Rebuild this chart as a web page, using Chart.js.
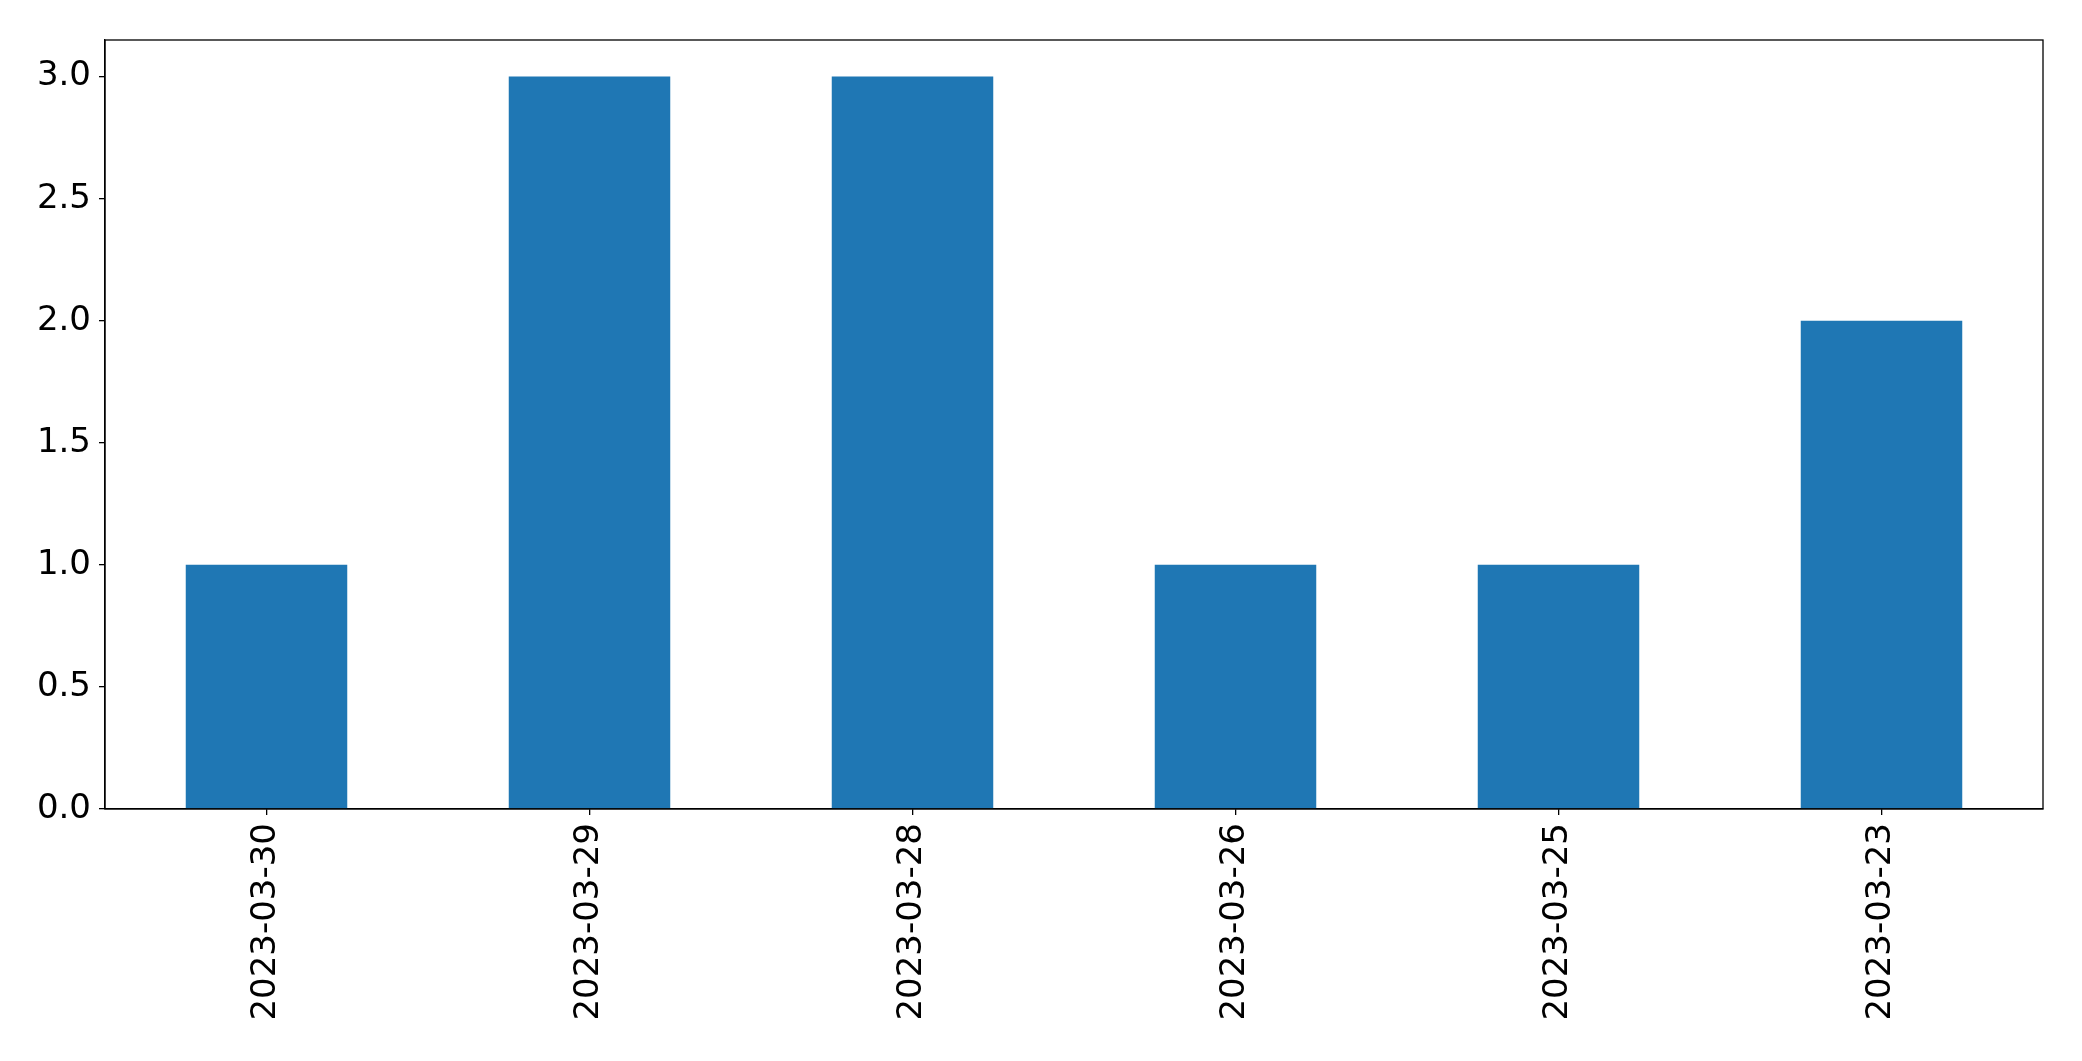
<!DOCTYPE html>
<html>
<head>
<meta charset="utf-8">
<script src="https://cdn.jsdelivr.net/npm/chart.js@4/dist/chart.umd.min.js"></script>
<style>
    html, body { margin:0; padding:0; background:#fff; }
    #wrap { width:2082px; height:1061px; }
</style>
</head>
<body>
<div id="wrap"><canvas id="bar_chart" width="2082" height="1061"></canvas></div>
<script>
// 날짜별 건수
let dates = ["2023-03-30", "2023-03-29", "2023-03-28", "2023-03-26", "2023-03-25", "2023-03-23"];
let counts = [1, 3, 3, 1, 1, 2];
let yTicks = [0, 0.5, 1, 1.5, 2, 2.5, 3];

// 축 테두리(위, 오른쪽 포함) 그리기
const frame = {
    id:"frame",
    afterDraw(chart){
        let a = chart.chartArea;
        let c = chart.ctx;
        c.save();
        c.strokeStyle = "#000";
        c.lineWidth = 1.3;
        c.strokeRect(a.left, a.top, a.right - a.left, a.bottom - a.top);
        c.restore();
    }
};

Chart.defaults.font.family = "'DejaVu Sans'";
Chart.defaults.color = "#000";

let ctx = document.getElementById("bar_chart");
let bar_chart = new Chart(ctx, {
    type:"bar",
    data:{
        labels:dates,
        datasets:[
            {
                data:counts,
                backgroundColor:"#1f77b4",
                categoryPercentage:1.0,
                barPercentage:0.5
            }
        ]
    },
    options:{
        responsive:false,
        animation:false,
        layout:{ padding:{ top:40, right:39, left:0, bottom:0 } },
        plugins:{ legend:{ display:false }, tooltip:{ enabled:false } },
        scales:{
            x:{
                grid:{ drawOnChartArea:false, tickLength:6, color:"#000", lineWidth:1.3, offset:false },
                border:{ color:"#000", width:1.3 },
                ticks:{ font:{ size:34 }, minRotation:90, maxRotation:90, padding:8 },
                afterFit(scale){ scale.height = 252; }
            },
            y:{
                min:0,
                max:3.15,
                grid:{ drawOnChartArea:false, tickLength:6, color:"#000", lineWidth:1.3 },
                border:{ color:"#000", width:1.3 },
                afterBuildTicks(scale){ scale.ticks = yTicks.map(v => ({ value:v })); },
                ticks:{
                    font:{ size:34 },
                    padding:8,
                    callback:function(v){ return Number(v).toFixed(1); }
                },
                afterFit(scale){ scale.width = 105; }
            }
        }
    },
    plugins:[frame]
});
</script>
</body>
</html>
